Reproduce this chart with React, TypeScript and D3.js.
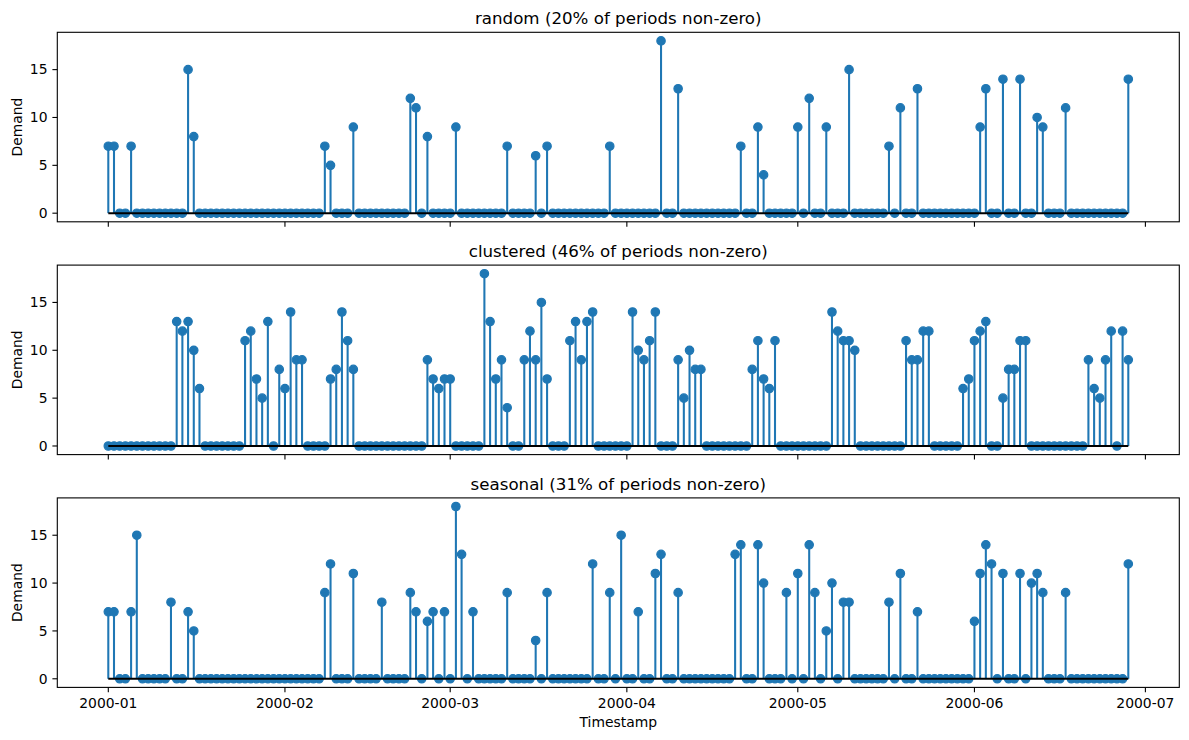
import { useEffect } from 'react';
import * as d3 from 'd3';

// daily demand, 180 periods starting 2000-01-01
const startDate = new Date(Date.UTC(2000, 0, 1));
const periods = 180;

const randomDemand = [
  7, 7, 0, 0, 7, 0, 0, 0, 0, 0,
  0, 0, 0, 0, 15, 8, 0, 0, 0, 0,
  0, 0, 0, 0, 0, 0, 0, 0, 0, 0,
  0, 0, 0, 0, 0, 0, 0, 0, 7, 5,
  0, 0, 0, 9, 0, 0, 0, 0, 0, 0,
  0, 0, 0, 12, 11, 0, 8, 0, 0, 0,
  0, 9, 0, 0, 0, 0, 0, 0, 0, 0,
  7, 0, 0, 0, 0, 6, 0, 7, 0, 0,
  0, 0, 0, 0, 0, 0, 0, 0, 7, 0,
  0, 0, 0, 0, 0, 0, 0, 18, 0, 0,
  13, 0, 0, 0, 0, 0, 0, 0, 0, 0,
  0, 7, 0, 0, 9, 4, 0, 0, 0, 0,
  0, 9, 0, 12, 0, 0, 9, 0, 0, 0,
  15, 0, 0, 0, 0, 0, 0, 7, 0, 11,
  0, 0, 13, 0, 0, 0, 0, 0, 0, 0,
  0, 0, 0, 9, 13, 0, 0, 14, 0, 0,
  14, 0, 0, 10, 9, 0, 0, 0, 11, 0,
  0, 0, 0, 0, 0, 0, 0, 0, 0, 14,
];

const clusteredDemand = [
  0, 0, 0, 0, 0, 0, 0, 0, 0, 0,
  0, 0, 13, 12, 13, 10, 6, 0, 0, 0,
  0, 0, 0, 0, 11, 12, 7, 5, 13, 0,
  8, 6, 14, 9, 9, 0, 0, 0, 0, 7,
  8, 14, 11, 8, 0, 0, 0, 0, 0, 0,
  0, 0, 0, 0, 0, 0, 9, 7, 6, 7,
  7, 0, 0, 0, 0, 0, 18, 13, 7, 9,
  4, 0, 0, 9, 12, 9, 15, 7, 0, 0,
  0, 11, 13, 9, 13, 14, 0, 0, 0, 0,
  0, 0, 14, 10, 9, 11, 14, 0, 0, 0,
  9, 5, 10, 8, 8, 0, 0, 0, 0, 0,
  0, 0, 0, 8, 11, 7, 6, 11, 0, 0,
  0, 0, 0, 0, 0, 0, 0, 14, 12, 11,
  11, 10, 0, 0, 0, 0, 0, 0, 0, 0,
  11, 9, 9, 12, 12, 0, 0, 0, 0, 0,
  6, 7, 11, 12, 13, 0, 0, 5, 8, 8,
  11, 11, 0, 0, 0, 0, 0, 0, 0, 0,
  0, 0, 9, 6, 5, 9, 12, 0, 12, 9,
];

const seasonalDemand = [
  7, 7, 0, 0, 7, 15, 0, 0, 0, 0,
  0, 8, 0, 0, 7, 5, 0, 0, 0, 0,
  0, 0, 0, 0, 0, 0, 0, 0, 0, 0,
  0, 0, 0, 0, 0, 0, 0, 0, 9, 12,
  0, 0, 0, 11, 0, 0, 0, 0, 8, 0,
  0, 0, 0, 9, 7, 0, 6, 7, 0, 7,
  0, 18, 13, 0, 7, 0, 0, 0, 0, 0,
  9, 0, 0, 0, 0, 4, 0, 9, 0, 0,
  0, 0, 0, 0, 0, 12, 0, 0, 9, 0,
  15, 0, 0, 7, 0, 0, 11, 13, 0, 0,
  9, 0, 0, 0, 0, 0, 0, 0, 0, 0,
  13, 14, 0, 0, 14, 10, 0, 0, 0, 9,
  0, 11, 0, 14, 9, 0, 5, 10, 0, 8,
  8, 0, 0, 0, 0, 0, 0, 8, 0, 11,
  0, 0, 7, 0, 0, 0, 0, 0, 0, 0,
  0, 0, 6, 11, 14, 12, 0, 11, 0, 0,
  11, 0, 10, 11, 9, 0, 0, 0, 9, 0,
  0, 0, 0, 0, 0, 0, 0, 0, 0, 12,
];

const panelTitles = [
  'random (20% of periods non-zero)',
  'clustered (46% of periods non-zero)',
  'seasonal (31% of periods non-zero)',
];
const panelSeries = [randomDemand, clusteredDemand, seasonalDemand];
const yTicks = [0, 5, 10, 15];

const W = 1189;
const H = 740;
const left = 57.3;
const right = 1179.3;
const panelTops = [32.3, 265.1, 497.9];
const panelH = 189.5;
const blue = '#1f77b4';
const font = 'DejaVu Sans, sans-serif';
const tickLen = 4.9;

export default function App() {
  useEffect(() => {
    document.body.style.margin = '0';
  }, []);

  const dates = d3.utcDay.range(startDate, d3.utcDay.offset(startDate, periods));
  const first = dates[0].getTime();
  const last = dates[dates.length - 1].getTime();
  const pad = (last - first) * 0.05;
  const x = d3.scaleUtc()
    .domain([new Date(first - pad), new Date(last + pad)])
    .range([left, right]);
  const xTicks = d3.utcMonth.range(new Date(Date.UTC(2000, 0, 1)), new Date(Date.UTC(2000, 6, 2)));
  const fmt = d3.utcFormat('%Y-%m');

  const maxV = d3.max(panelSeries.flat()) as number;
  const yPad = maxV * 0.05;

  return (
    <svg width={W} height={H} style={{ position: 'absolute', left: 0, top: 0, background: '#fff' }} fontFamily={font}>
      {panelSeries.map((series, p) => {
        const top = panelTops[p];
        const y = d3.scaleLinear().domain([-yPad, maxV + yPad]).range([top + panelH, top]);
        const bottom = top + panelH;
        const isLast = p === panelSeries.length - 1;
        return (
          <g key={p}>
            <text x={(left + right) / 2} y={top - 8.3} textAnchor="middle" fontSize={16.67} fill="#000">
              {panelTitles[p]}
            </text>
            {/* markers */}
            {series.map((v, i) => (
              <circle key={`m${i}`} cx={x(dates[i])} cy={y(v)} r={4.2} fill={blue} stroke={blue} strokeWidth={1.2} />
            ))}
            {/* stems */}
            {series.map((v, i) => (
              <line key={`s${i}`} x1={x(dates[i])} x2={x(dates[i])} y1={y(0)} y2={y(v)} stroke={blue} strokeWidth={2.08} />
            ))}
            {/* baseline */}
            <line x1={x(dates[0])} x2={x(dates[dates.length - 1])} y1={y(0)} y2={y(0)} stroke="#000" strokeWidth={2.08} />
            <rect x={left} y={top} width={right - left} height={panelH} fill="none" stroke="#000" strokeWidth={1.1} />
            {yTicks.map(t => (
              <g key={`y${t}`}>
                <line x1={left - tickLen} x2={left} y1={y(t)} y2={y(t)} stroke="#000" strokeWidth={1.1} />
                <text x={left - tickLen - 4.9} y={y(t)} dy="0.35em" textAnchor="end" fontSize={13.9} fill="#000">{t}</text>
              </g>
            ))}
            {xTicks.map(t => (
              <g key={`x${t.getTime()}`}>
                <line x1={x(t)} x2={x(t)} y1={bottom} y2={bottom + tickLen} stroke="#000" strokeWidth={1.1} />
                {isLast && (
                  <text x={x(t)} y={bottom + tickLen + 4.9} dy="0.76em" textAnchor="middle" fontSize={13.9} fill="#000">{fmt(t)}</text>
                )}
              </g>
            ))}
            <text transform={`translate(21.5, ${top + panelH / 2}) rotate(-90)`} textAnchor="middle" fontSize={13.9} fill="#000">
              Demand
            </text>
          </g>
        );
      })}
      <text x={(left + right) / 2} y={727} textAnchor="middle" fontSize={13.9} fill="#000">Timestamp</text>
    </svg>
  );
}
